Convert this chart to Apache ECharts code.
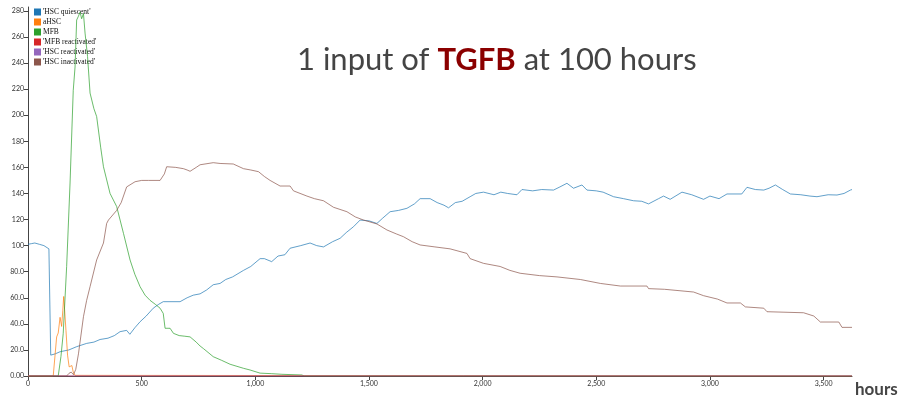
<!DOCTYPE html>
<html>
<head>
<meta charset="utf-8">
<script src="https://cdn.jsdelivr.net/npm/echarts@6/dist/echarts.min.js"></script>
<style>
html,body{margin:0;padding:0;background:#fff;}
#chart{width:899px;height:401px;}
</style>
</head>
<body>
<div id="chart"></div>
<script>
const seriesNames = ["'HSC quiescent'", "aHSC", "MFB", "'MFB reactivated'", "'HSC reactivated'", "'HSC inactivated'"];
const seriesColors = ["#1f77b4", "#ff7f0e", "#2ca02c", "#d62728", "#9467bd", "#8c564b"];
const xTicks = [0, 500, 1000, 1500, 2000, 2500, 3000, 3500];
const yTicks = [0, 20, 40, 60, 80, 100, 120, 140, 160, 180, 200, 220, 240, 260, 280];

const hscQuiescent = [[0,101],[15,101.5],[30,102],[50,101],[70,100],[92,97.5],[98,97],[100,16],[120,17],[141,18.6],[180,20],[214,22.5],[258,25],[290,26],[317,28],[352,29],[380,31],[405,34],[434,35],[448,32],[470,37],[493,41.6],[520,46],[551,52],[575,55],[595,57],[669,57],[700,60],[727,62],[757,63],[786,66],[815,70],[845,71],[870,74],[900,76],[948,81],[980,84],[1021,90],[1040,90],[1072,87.7],[1100,92],[1130,93],[1153,98],[1200,100],[1241,102],[1270,100],[1300,99],[1340,103],[1373,105.6],[1400,110],[1432,114.5],[1461,119.6],[1500,119],[1535,117],[1560,121],[1593,126],[1630,127],[1667,128.6],[1700,132],[1725,136],[1769,136],[1800,133],[1830,131],[1850,129],[1880,133],[1910,134],[1945,137.5],[1970,140],[2004,141],[2050,139],[2080,141],[2110,140],[2151,139],[2173,143],[2220,142],[2260,143],[2312,142.6],[2340,145],[2371,147.8],[2400,144],[2437,146.5],[2459,142.6],[2500,142],[2530,141],[2576,137.5],[2620,136],[2664,134.4],[2700,134],[2730,132],[2774,136],[2796,138],[2825,135.5],[2877,141],[2920,139],[2972,135.5],[3000,138],[3040,136],[3075,139.6],[3140,139.6],[3163,144.7],[3200,143],[3237,142.6],[3260,144],[3288,146.5],[3320,143],[3354,139.6],[3400,139],[3440,138],[3471,137.5],[3520,139],[3559,138.8],[3590,140],[3618,142.6],[3625,143]];
const aHSC = [[0,0],[111,0],[119,16],[126,30],[133,33],[141,45],[148,38],[153,50],[157,61],[161,51],[167,35],[174,16],[181,7],[188,8],[193,8],[199,3],[207,0.5],[214,0],[3625,0]];
const mfb = [[0,0],[133,0],[145,15],[155,32.7],[170,84],[185,148],[199,219],[207,237],[214,273],[222,276],[229,279],[236,274],[244,278],[251,263],[262,245],[273,217],[290,205],[302,199],[320,175],[332,160.5],[361,140],[390,130],[420,109.4],[449,89],[470,78],[493,68.5],[515,62],[537,58],[560,55],[581,52],[595,48],[603,36.6],[625,36.6],[640,32.7],[665,31],[690,30.5],[713,30],[740,26],[757,23],[772,21],[815,14.8],[852,12],[889,9],[948,5.9],[977,4.6],[1021,2.2],[1070,1.8],[1117,1.3],[1205,0.8],[1215,0],[3625,0]];
const mfbReactivated = [[0,0],[3625,0]];
const hscReactivated = [[0,0],[3625,0]];
const hscInactivated = [[0,0],[170,0],[180,2],[190,3],[200,1],[210,5],[222,17],[244,45.5],[258,58],[273,68.5],[302,89],[332,102],[346,117],[354,119.6],[390,127],[410,133],[434,145],[471,149],[500,150],[530,150],[581,150],[600,155],[610,160.5],[650,160],[684,159],[700,158],[713,157],[740,160],[757,162],[815,163.6],[845,163],[903,162.6],[948,159],[980,158],[1014,156.7],[1040,153],[1065,150],[1109,145.7],[1153,145.7],[1168,142],[1227,138],[1260,136],[1300,134.4],[1344,129.4],[1403,126],[1440,122],[1476,119.6],[1535,116.6],[1579,112],[1620,109],[1652,106.8],[1690,103],[1725,100.5],[1790,99],[1857,97.5],[1931,94],[1945,90],[2004,86.4],[2077,84],[2120,81],[2165,78.8],[2250,77],[2327,76],[2430,74],[2518,71],[2606,69],[2723,69],[2730,67],[2800,66.5],[2928,64.4],[2972,61.6],[3033,59],[3075,56],[3134,56],[3156,53],[3237,52],[3251,49.3],[3412,48.5],[3457,46],[3486,41.4],[3567,41.4],[3581,37.3],[3625,37.3]];

const allData = [hscQuiescent, aHSC, mfb, mfbReactivated, hscReactivated, hscInactivated];

function yFmt(v){
  if (v === 0) return '0.00';
  if (v < 100) return v.toFixed(1);
  return String(Math.round(v));
}
function xFmt(v){ return v.toLocaleString('en-US'); }

const chart = echarts.init(document.getElementById('chart'), null, {renderer:'canvas'});
chart.setOption({
  animation: false,
  backgroundColor: '#fff',
  title: {
    text: '1 input of {b|TGFB} at 100 hours',
    left: 297, top: 44, padding: 0,
    textStyle: {
      fontFamily: 'Lato', fontSize: 31, fontWeight: 'normal', color: '#444',
      rich: { b: { fontFamily: 'Lato', fontSize: 31, fontWeight: 'bold', color: '#8b0000' } }
    }
  },
  legend: {
    orient: 'vertical', left: 34, top: 8, padding: 0,
    itemWidth: 7, itemHeight: 7, itemGap: 2, icon: 'rect',
    data: seriesNames,
    textStyle: { fontFamily: 'Liberation Serif', fontSize: 7.5, color: '#111', lineHeight: 7, padding: [0,0,0,-3] }
  },
  grid: { left: 28, right: 47, top: 7, bottom: 25, containLabel: false },
  xAxis: {
    type: 'value', min: 0, max: 3625, interval: 500,
    axisLine: { show: true, lineStyle: { color: '#444', width: 1 } },
    axisTick: { show: true, length: 4, lineStyle: { color: '#444' } },
    axisLabel: { fontSize: 7, color: '#333', margin: 4, formatter: xFmt, showMaxLabel: false, fontFamily: 'Lato' },
    splitLine: { show: false }
  },
  yAxis: {
    type: 'value', min: 0, max: 283, interval: 20,
    axisLine: { show: true, lineStyle: { color: '#444', width: 1 } },
    axisTick: { show: true, length: 4, lineStyle: { color: '#444' } },
    axisLabel: { fontSize: 7, color: '#333', margin: 4, formatter: yFmt, showMaxLabel: false, fontFamily: 'Lato' },
    splitLine: { show: false }
  },
  graphic: [{
    type: 'text', left: 855, top: 381,
    style: { text: 'hours', font: 'bold 17px Lato', fill: '#444' }
  }],
  series: seriesNames.map((name, i) => ({
    name: name,
    type: 'line',
    data: allData[i],
    showSymbol: false,
    symbol: 'none',
    z: 2 + i,
    itemStyle: { color: seriesColors[i] },
    lineStyle: { color: seriesColors[i], width: 1, opacity: 0.7 }
  }))
});
</script>
</body>
</html>
